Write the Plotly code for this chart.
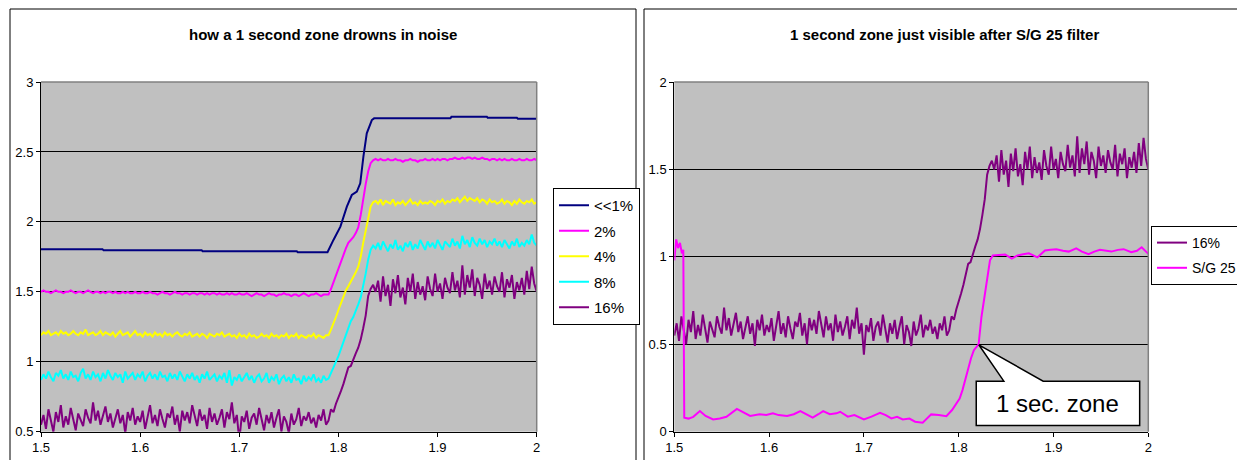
import plotly.graph_objects as go

W, H = 1237, 460

# ---------------- data ----------------
x_grid = [round(1.5 + 0.0025 * i, 4) for i in range(201)]

navy_x = [1.5, 1.562, 1.563, 1.662, 1.663, 1.758, 1.759, 1.789, 1.795, 1.802, 1.8085, 1.8135,
          1.8186, 1.822, 1.8252, 1.8286, 1.8337, 1.836, 1.913, 1.914, 1.9497, 1.9505, 1.98, 1.981, 2.0]
navy_y = [1.805, 1.805, 1.798, 1.798, 1.79, 1.79, 1.783, 1.783, 1.871, 1.966, 2.109, 2.192,
          2.216, 2.276, 2.466, 2.633, 2.728, 2.74, 2.74, 2.752, 2.752, 2.745, 2.745, 2.738, 2.738]

p2 = [
    1.50, 1.51, 1.50, 1.50, 1.49, 1.50, 1.51, 1.50, 1.50, 1.49,
    1.50, 1.50, 1.51, 1.50, 1.49, 1.50, 1.50, 1.49, 1.50, 1.51,
    1.50, 1.49, 1.50, 1.50, 1.49, 1.50, 1.49, 1.50, 1.50, 1.49,
    1.50, 1.49, 1.49, 1.50, 1.49, 1.50, 1.49, 1.49, 1.50, 1.49,
    1.49, 1.50, 1.49, 1.49, 1.50, 1.49, 1.49, 1.48, 1.49, 1.50,
    1.49, 1.49, 1.48, 1.49, 1.50, 1.49, 1.49, 1.48, 1.49, 1.49,
    1.48, 1.49, 1.49, 1.48, 1.49, 1.49, 1.48, 1.49, 1.48, 1.49,
    1.49, 1.48, 1.49, 1.48, 1.48, 1.49, 1.48, 1.49, 1.48, 1.48,
    1.49, 1.48, 1.48, 1.49, 1.48, 1.47, 1.48, 1.49, 1.48, 1.48,
    1.47, 1.48, 1.49, 1.48, 1.48, 1.47, 1.48, 1.48, 1.49, 1.48,
    1.48, 1.47, 1.48, 1.48, 1.47, 1.48, 1.49, 1.48, 1.47, 1.48,
    1.48, 1.49, 1.48, 1.47, 1.48, 1.48,
    1.48, 1.52, 1.57, 1.62, 1.67, 1.72, 1.76, 1.81, 1.85, 1.87,
    1.89, 1.92, 1.96, 2.05, 2.17, 2.27, 2.36, 2.42, 2.44,
    2.45, 2.44, 2.45, 2.44, 2.44, 2.45, 2.44, 2.44, 2.45, 2.44,
    2.44, 2.43, 2.44, 2.44, 2.45, 2.44, 2.44, 2.43, 2.44, 2.44,
    2.45, 2.44, 2.44, 2.45, 2.44, 2.45, 2.44, 2.45, 2.45, 2.44,
    2.45, 2.45, 2.46, 2.45, 2.45, 2.46, 2.45, 2.46, 2.46, 2.45,
    2.46, 2.45, 2.45, 2.46, 2.45, 2.45, 2.44, 2.45, 2.45, 2.44,
    2.45, 2.44, 2.45, 2.44, 2.44, 2.45, 2.44, 2.44, 2.45, 2.44,
    2.44, 2.45, 2.44, 2.44, 2.45, 2.44,
]

p4 = [
    1.19, 1.21, 1.20, 1.22, 1.19, 1.20, 1.21, 1.19, 1.22, 1.20,
    1.21, 1.19, 1.20, 1.22, 1.20, 1.19, 1.21, 1.20, 1.23, 1.19,
    1.20, 1.21, 1.19, 1.20, 1.22, 1.19, 1.21, 1.20, 1.19, 1.21,
    1.18, 1.20, 1.22, 1.19, 1.20, 1.21, 1.18, 1.20, 1.22, 1.19,
    1.20, 1.18, 1.21, 1.19, 1.20, 1.18, 1.21, 1.19, 1.20, 1.18,
    1.21, 1.19, 1.20, 1.18, 1.20, 1.21, 1.19, 1.18, 1.20, 1.19,
    1.21, 1.18, 1.19, 1.20, 1.18, 1.20, 1.19, 1.17, 1.20, 1.19,
    1.18, 1.20, 1.19, 1.21, 1.18, 1.19, 1.20, 1.18, 1.19, 1.17,
    1.20, 1.18, 1.19, 1.17, 1.20, 1.18, 1.19, 1.17, 1.18, 1.20,
    1.18, 1.19, 1.17, 1.20, 1.18, 1.19, 1.17, 1.19, 1.18, 1.20,
    1.17, 1.19, 1.18, 1.20, 1.17, 1.19, 1.18, 1.17, 1.19, 1.18,
    1.20, 1.17, 1.19, 1.18, 1.17, 1.19,
    1.19, 1.23, 1.27, 1.32, 1.37, 1.42, 1.47, 1.51, 1.54, 1.57,
    1.60, 1.64, 1.68, 1.75, 1.85, 1.94, 2.04, 2.11, 2.14,
    2.15, 2.13, 2.16, 2.12, 2.15, 2.14, 2.13, 2.16, 2.12, 2.14,
    2.13, 2.15, 2.12, 2.14, 2.16, 2.13, 2.14, 2.12, 2.15, 2.13,
    2.14, 2.13, 2.15, 2.14, 2.12, 2.15, 2.14, 2.16, 2.13, 2.15,
    2.14, 2.16, 2.15, 2.17, 2.14, 2.16, 2.18, 2.15, 2.17, 2.16,
    2.15, 2.17, 2.14, 2.16, 2.15, 2.13, 2.16, 2.14, 2.15, 2.13,
    2.14, 2.16, 2.13, 2.15, 2.14, 2.12, 2.15, 2.13, 2.16, 2.14,
    2.13, 2.15, 2.14, 2.16, 2.13, 2.14,
]

p8 = [
    0.87, 0.91, 0.88, 0.93, 0.89, 0.86, 0.92, 0.90, 0.94, 0.88,
    0.91, 0.87, 0.93, 0.89, 0.90, 0.86, 0.92, 0.95, 0.88, 0.91,
    0.87, 0.93, 0.89, 0.91, 0.86, 0.92, 0.88, 0.94, 0.90, 0.87,
    0.92, 0.89, 0.91, 0.85, 0.93, 0.88, 0.90, 0.92, 0.87, 0.91,
    0.89, 0.93, 0.86, 0.90, 0.92, 0.88, 0.91, 0.87, 0.93, 0.89,
    0.90, 0.86, 0.92, 0.88, 0.91, 0.87, 0.93, 0.89, 0.86, 0.91,
    0.88, 0.92, 0.87, 0.90, 0.85, 0.91, 0.88, 0.93, 0.87, 0.89,
    0.91, 0.86, 0.90, 0.88, 0.92, 0.85, 0.94, 0.83, 0.89, 0.87,
    0.91, 0.86, 0.89, 0.92, 0.87, 0.90, 0.85, 0.89, 0.91, 0.86,
    0.88, 0.92, 0.85, 0.89, 0.87, 0.91, 0.84, 0.88, 0.90, 0.86,
    0.89, 0.85, 0.91, 0.87, 0.88, 0.84, 0.90, 0.86, 0.89, 0.87,
    0.91, 0.86, 0.88, 0.85, 0.90, 0.87,
    0.88, 0.92, 0.95, 0.99, 1.04, 1.09, 1.14, 1.20, 1.25, 1.29,
    1.32, 1.36, 1.41, 1.46, 1.54, 1.63, 1.73, 1.80, 1.83,
    1.81, 1.85, 1.80, 1.86, 1.82, 1.79, 1.84, 1.81, 1.87, 1.80,
    1.83, 1.79, 1.85, 1.82, 1.86, 1.80, 1.84, 1.81, 1.87, 1.83,
    1.80, 1.86, 1.82, 1.85, 1.81, 1.87, 1.83, 1.80, 1.86, 1.84,
    1.82, 1.88, 1.83, 1.86, 1.81, 1.90, 1.84, 1.87, 1.82, 1.89,
    1.85, 1.83, 1.88, 1.84, 1.87, 1.82, 1.86, 1.84, 1.88, 1.83,
    1.86, 1.82, 1.87, 1.84, 1.81, 1.86, 1.83, 1.88, 1.82, 1.85,
    1.83, 1.87, 1.84, 1.91, 1.85, 1.83,
]

p16 = [
    0.55, 0.62, 0.52, 0.66, 0.58, 0.50, 0.64, 0.57, 0.69, 0.53,
    0.61, 0.55, 0.67, 0.58, 0.51, 0.63, 0.59, 0.54, 0.66, 0.60,
    0.56, 0.71, 0.58, 0.65, 0.55, 0.62, 0.68, 0.57, 0.63, 0.53,
    0.60, 0.66, 0.56, 0.62, 0.49, 0.64, 0.58, 0.67, 0.55, 0.61,
    0.57, 0.65, 0.52, 0.60, 0.69, 0.56, 0.62, 0.54, 0.66, 0.59,
    0.53, 0.63, 0.60, 0.68, 0.55, 0.62, 0.50, 0.65, 0.58, 0.64,
    0.56, 0.69, 0.61, 0.54, 0.66, 0.58, 0.62, 0.52, 0.67, 0.57,
    0.63, 0.55, 0.60, 0.66, 0.53, 0.64, 0.59, 0.71, 0.56, 0.62,
    0.44, 0.61, 0.57, 0.65, 0.52, 0.60, 0.63, 0.55, 0.67, 0.58,
    0.51, 0.62, 0.56, 0.64, 0.53, 0.60, 0.66, 0.50, 0.61, 0.57,
    0.49, 0.63, 0.55, 0.59, 0.67, 0.54, 0.61, 0.58, 0.64, 0.56,
    0.60, 0.53, 0.62, 0.58, 0.66, 0.55,
    0.58, 0.66, 0.64, 0.70, 0.74, 0.79, 0.84, 0.91, 0.96, 0.97,
    1.02, 1.06, 1.10, 1.16, 1.24, 1.33, 1.47, 1.52, 1.55,
    1.50, 1.58, 1.43, 1.61, 1.47, 1.55, 1.40, 1.59, 1.49, 1.62,
    1.46, 1.53, 1.41, 1.60, 1.50, 1.63, 1.45, 1.57, 1.48, 1.54,
    1.44, 1.61, 1.52, 1.47, 1.63, 1.50, 1.56, 1.45, 1.60, 1.53,
    1.49, 1.64, 1.51, 1.58, 1.46, 1.69, 1.48, 1.62, 1.53, 1.66,
    1.47, 1.60, 1.55, 1.45, 1.63, 1.52, 1.58, 1.48, 1.61, 1.54,
    1.50, 1.64, 1.46, 1.59, 1.53, 1.62, 1.45, 1.57, 1.51, 1.60,
    1.48, 1.65, 1.52, 1.68, 1.56, 1.50,
]

sg_x = [1.5, 1.502, 1.504, 1.506, 1.508, 1.5095, 1.5105, 1.515, 1.52, 1.527, 1.533, 1.541, 1.548,
        1.555, 1.566, 1.573, 1.58, 1.59, 1.597, 1.604, 1.61, 1.619, 1.626, 1.633, 1.64, 1.646,
        1.652, 1.657, 1.664, 1.671, 1.675, 1.683, 1.69, 1.7, 1.708, 1.717, 1.723, 1.729, 1.735,
        1.741, 1.748, 1.754, 1.762, 1.766, 1.771, 1.779, 1.787, 1.793, 1.7975, 1.801, 1.804,
        1.807, 1.81, 1.813, 1.816, 1.821, 1.824, 1.827, 1.829, 1.831, 1.833, 1.836, 1.842,
        1.849, 1.856, 1.862, 1.868, 1.874, 1.883, 1.891, 1.897, 1.903, 1.91, 1.916, 1.924,
        1.93, 1.937, 1.943, 1.949, 1.955, 1.961, 1.968, 1.974, 1.982, 1.988, 1.993, 1.997, 2.0]
sg_y = [0.98, 1.1, 1.05, 1.08, 1.02, 1.04, 0.08, 0.075, 0.085, 0.118, 0.09, 0.07, 0.075,
        0.085, 0.13, 0.11, 0.09, 0.1, 0.095, 0.105, 0.095, 0.09, 0.1, 0.118, 0.095, 0.08,
        0.1, 0.118, 0.1, 0.105, 0.114, 0.086, 0.095, 0.07, 0.086, 0.108, 0.095, 0.076, 0.085,
        0.07, 0.075, 0.057, 0.051, 0.07, 0.099, 0.095, 0.089, 0.124, 0.16, 0.19, 0.238,
        0.3, 0.37, 0.42, 0.466, 0.5, 0.656, 0.76, 0.846, 0.92, 0.98, 1.008, 1.01,
        1.014, 0.99, 1.008, 1.015, 1.02, 0.997, 1.036, 1.04, 1.044, 1.035, 1.03, 1.049,
        1.03, 1.015, 1.03, 1.04, 1.035, 1.03, 1.04, 1.044, 1.027, 1.035, 1.055, 1.035, 1.017]

left_names = ["<<1%", "2%", "4%", "8%", "16%"]
left_colors = ["#000080", "#FF00FF", "#FFFF00", "#00FFFF", "#800080"]
right_names = ["16%", "S/G 25"]
right_colors = ["#800080", "#FF00FF"]

titles = ["how a 1 second zone drowns in noise", "1 second zone just visible after S/G 25 filter"]
callout_text = "1 sec. zone"

# ---------------- figure ----------------
FONT = "Liberation Sans, Arial, sans-serif"
fig = go.Figure()


def px_x(p):
    return p / W


def px_y(p):
    return 1 - p / H


left_series = [(navy_x, navy_y), (x_grid, p2), (x_grid, p4), (x_grid, p8), (x_grid, p16)]
for i, ((xs, ys), name, col) in enumerate(zip(left_series, left_names, left_colors)):
    fig.add_trace(go.Scatter(x=xs, y=ys, mode="lines", name=name, line=dict(color=col, width=2),
                             xaxis="x", yaxis="y", legend="legend", legendgroup="L%d" % i))

right_series = [(x_grid, p16), (sg_x, sg_y)]
for i, ((xs, ys), name, col) in enumerate(zip(right_series, right_names, right_colors)):
    fig.add_trace(go.Scatter(x=xs, y=ys, mode="lines", name=name, line=dict(color=col, width=2),
                             xaxis="x2", yaxis="y2", legend="legend2", legendgroup="R%d" % i))

# plot-area pixel boxes
L = (41, 536.7)
R = (674.3, 1148.3)
TOP, BOT = 82, 431.7
ydom = [px_y(BOT), px_y(TOP)]

axis_common = dict(showline=True, linecolor="black", linewidth=1, ticks="outside", ticklen=4,
                   tickcolor="black", tickfont=dict(size=13, color="black", family=FONT),
                   zeroline=False, fixedrange=True, automargin=False)

fig.update_layout(
    width=W, height=H,
    margin=dict(l=0, r=0, t=0, b=0, autoexpand=False),
    paper_bgcolor="white",
    plot_bgcolor="#C0C0C0",
    font=dict(family=FONT, color="black"),
    xaxis=dict(domain=[px_x(L[0]), px_x(L[1])], anchor="y", range=[1.5, 2], dtick=0.1, tick0=1.5,
               showgrid=False, **axis_common),
    yaxis=dict(domain=ydom, anchor="x", range=[0.5, 3], dtick=0.5, tick0=0.5,
               showgrid=True, gridcolor="black", gridwidth=1, **axis_common),
    xaxis2=dict(domain=[px_x(R[0]), px_x(R[1])], anchor="y2", range=[1.5, 2], dtick=0.1, tick0=1.5,
                showgrid=False, **axis_common),
    yaxis2=dict(domain=ydom, anchor="x2", range=[0, 2], dtick=0.5, tick0=0,
                showgrid=True, gridcolor="black", gridwidth=1, **axis_common),
    legend=dict(x=px_x(553), y=px_y(188), xanchor="left", yanchor="top", bgcolor="white",
                bordercolor="black", borderwidth=1, font=dict(size=15, color="black", family=FONT),
                itemwidth=30, tracegroupgap=3),
    legend2=dict(x=px_x(1151), y=px_y(226), xanchor="left", yanchor="top", bgcolor="white",
                 bordercolor="black", borderwidth=1, font=dict(size=14, color="black", family=FONT),
                 itemwidth=30, tracegroupgap=4),
    showlegend=True,
)

shapes = []
# outer chart borders
shapes.append(dict(type="rect", xref="paper", yref="paper", x0=px_x(10), x1=px_x(636),
                   y0=-0.2, y1=px_y(9), line=dict(color="black", width=1), layer="below"))
shapes.append(dict(type="rect", xref="paper", yref="paper", x0=px_x(644), x1=1.2,
                   y0=-0.2, y1=px_y(9), line=dict(color="black", width=1), layer="below"))
# gray top / right borders of plot areas
for xr, yr in (("x domain", "y domain"), ("x2 domain", "y2 domain")):
    shapes.append(dict(type="line", xref=xr, yref=yr, x0=0, x1=1, y0=1, y1=1,
                       line=dict(color="#808080", width=1.5), layer="above"))
    shapes.append(dict(type="line", xref=xr, yref=yr, x0=1, x1=1, y0=0, y1=1,
                       line=dict(color="#808080", width=1.5), layer="above"))

# callout (box with wedge pointing at the S/G curve)
bx0, bx1, by0, by1 = 1.8185, 1.9909, 0.036, 0.289
wx0, wx1 = 1.8476, 1.8891
tipx, tipy = 1.8212, 0.497
path = (f"M {bx0},{by0} L {bx0},{by1} L {wx0},{by1} L {tipx},{tipy} L {wx1},{by1} "
        f"L {bx1},{by1} L {bx1},{by0} Z")
shapes.append(dict(type="path", xref="x2", yref="y2", path=path, fillcolor="white",
                   line=dict(color="black", width=1.5), layer="above"))
fig.update_layout(shapes=shapes)

annotations = [
    dict(text="<b>%s</b>" % titles[0], xref="paper", yref="paper", x=px_x(323), y=px_y(34),
         showarrow=False, xanchor="center", yanchor="middle", font=dict(size=15, family=FONT, color="black")),
    dict(text="<b>%s</b>" % titles[1], xref="paper", yref="paper", x=px_x(945), y=px_y(34),
         showarrow=False, xanchor="center", yanchor="middle", font=dict(size=15, family=FONT, color="black")),
    dict(text=callout_text, xref="x2", yref="y2", x=(bx0 + bx1) / 2, y=(by0 + by1) / 2,
         showarrow=False, xanchor="center", yanchor="middle", font=dict(size=24, family=FONT, color="black")),
]
fig.update_layout(annotations=annotations)

fig.write_html("out.html", config={"displayModeBar": False},
               post_script="document.body.style.margin='0';")
